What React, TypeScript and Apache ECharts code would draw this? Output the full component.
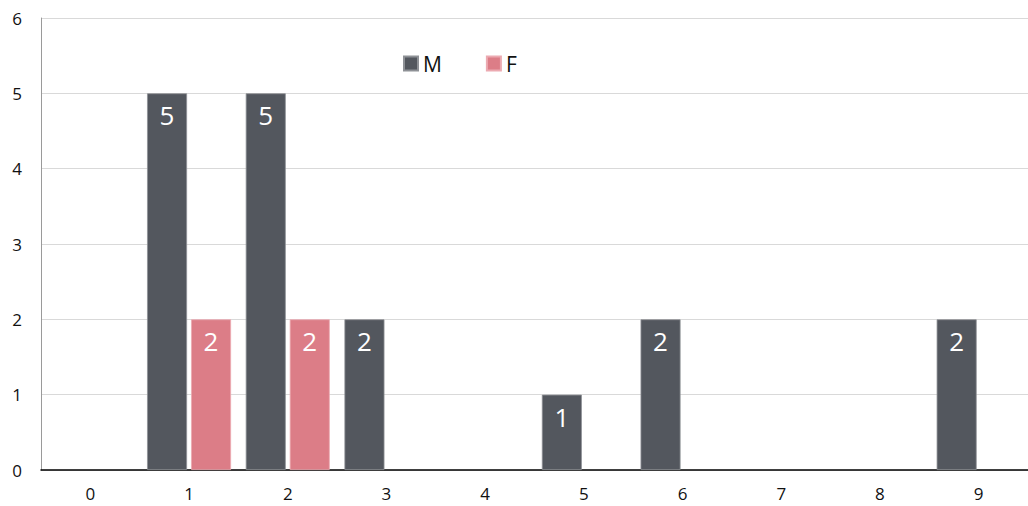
import React, { useEffect, useRef } from "react";
import * as echarts from "echarts";

const categories = ["0", "1", "2", "3", "4", "5", "6", "7", "8", "9"];
const seriesM = [null, 5, 5, 2, null, 1, 2, null, null, 2];
const seriesF = [null, 2, 2, null, null, null, null, null, null, null];
const yTicks = { min: 0, max: 6, interval: 1 };

export default function App() {
  const ref = useRef<HTMLDivElement>(null);
  useEffect(() => {
    const chart = echarts.init(ref.current!, null, { renderer: "svg" });
    const font = "'Open Sans', 'Noto Sans', sans-serif";
    const label = {
      show: true,
      position: "insideTop",
      color: "#ffffff",
      fontSize: 26,
      fontFamily: font,
      distance: 9,
    };
    chart.setOption({
      animation: false,
      backgroundColor: "#ffffff",
      grid: { left: 41, right: 0, top: 18, bottom: 36 },
      legend: {
        left: 398,
        top: 48,
        padding: 5,
        icon: "rect",
        itemWidth: 14,
        itemHeight: 14,
        itemGap: 44,
        textStyle: { fontSize: 21, color: "#111", fontFamily: font },
        data: ["M", "F"],
      },
      xAxis: {
        type: "category",
        data: categories,
        axisLine: { lineStyle: { color: "#000", width: 1.5 } },
        axisTick: { show: false },
        axisLabel: { color: "#111", fontSize: 17, fontFamily: font, margin: 15 },
      },
      yAxis: {
        type: "value",
        min: yTicks.min,
        max: yTicks.max,
        interval: yTicks.interval,
        axisLine: { show: true, lineStyle: { color: "#9a9a9a", width: 1 } },
        axisTick: { show: false },
        splitLine: { lineStyle: { color: "#d9d9d9", width: 1 } },
        axisLabel: { color: "#111", fontSize: 17, fontFamily: font, margin: 19 },
      },
      series: [
        {
          name: "M",
          type: "bar",
          data: seriesM,
          barWidth: 40,
          barGap: "10%",
          itemStyle: { color: "#53575e", borderColor: "#8e9196", borderWidth: 0.8 },
          label,
        },
        {
          name: "F",
          type: "bar",
          data: seriesF,
          barWidth: 40,
          barGap: "10%",
          itemStyle: { color: "#dc7d87", borderColor: "#ecaab1", borderWidth: 0.8 },
          label,
        },
      ],
    });
    return () => chart.dispose();
  }, []);
  return (
    <div
      ref={ref}
      style={{ position: "fixed", left: 0, top: 0, width: 1028, height: 506 }}
    />
  );
}
